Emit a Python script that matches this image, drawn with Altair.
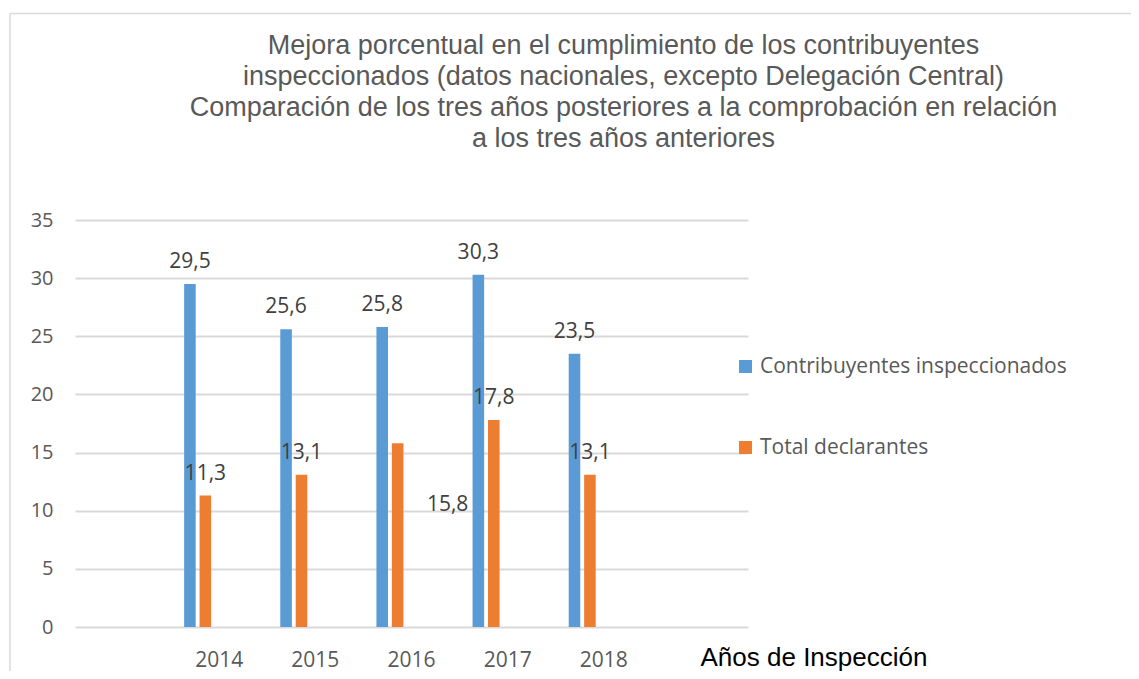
import altair as alt
import pandas as pd

# ---- data ----
years = ["2014", "2015", "2016", "2017", "2018"]
series = ["Contribuyentes inspeccionados", "Total declarantes"]
contribuyentes = [29.5, 25.6, 25.8, 30.3, 23.5]
total_declarantes = [11.3, 13.1, 15.8, 17.8, 13.1]
colors = ["#5B9BD5", "#ED7D31"]
y_ticks = [0, 5, 10, 15, 20, 25, 30, 35]
# in the reference the 2016 "Total declarantes" label is drawn beside the bars,
# with its baseline resting on the 10 gridline
moved_label = ("2016", "Total declarantes")
moved_label_anchor = 10.0

title_lines = [
    "Mejora porcentual en el cumplimiento de los contribuyentes",
    "inspeccionados (datos nacionales, excepto Delegación Central)",
    "Comparación de los tres años posteriores a la comprobación en relación",
    "a los tres años anteriores",
]
x_title = "Años de Inspección"
x_domain = ["pad_l"] + years + ["pad_r"]

rows = []
for i, y in enumerate(years):
    for s, vals in zip(series, [contribuyentes, total_declarantes]):
        v = vals[i]
        rows.append({
            "year": y,
            "serie": s,
            "value": v,
            "label": f"{v:.1f}".replace(".", ","),
            "moved": (y, s) == moved_label,
            "anchor": moved_label_anchor if (y, s) == moved_label else v,
        })
df = pd.DataFrame(rows)

label_font = "Open Sans"

x_enc = alt.X(
    "year:N",
    scale=alt.Scale(domain=x_domain, paddingInner=0, paddingOuter=0),
    axis=alt.Axis(
        labelExpr="indexof(datum.label, 'pad') >= 0 ? '' : datum.label",
        labelFont=label_font, labelFontSize=21, labelColor="#595959",
        labelPadding=22, labelAngle=0,
        ticks=False, domain=False, grid=False,
        title=x_title, titleX=625, titleY=38, titleAlign="left",
        titleAnchor="start", titleBaseline="alphabetic",
        titleFont="Liberation Sans", titleFontSize=26,
        titleFontWeight="normal", titleColor="#000000",
    ),
)
xo_enc = alt.XOffset(
    "serie:N",
    scale=alt.Scale(domain=series, range=[13, 40], paddingInner=0.25, paddingOuter=0),
)
y_axis = alt.Axis(
    values=y_ticks, title=None, ticks=False, domain=False,
    labelFont=label_font, labelFontSize=20, labelColor="#595959",
    labelPadding=22, grid=True, gridColor="#D9D9D9", gridWidth=2,
)
y_scale = alt.Scale(domain=[0, 35], nice=False, zero=True)

base = alt.Chart(df)

bars = base.mark_bar().encode(
    x=x_enc,
    xOffset=xo_enc,
    y=alt.Y("value:Q", scale=y_scale, axis=y_axis),
    color=alt.Color(
        "serie:N",
        scale=alt.Scale(domain=series, range=colors),
        legend=alt.Legend(
            orient="none", legendX=660, legendY=136, title=None,
            symbolType="square", symbolSize=169, symbolStrokeWidth=0,
            labelFont=label_font, labelFontSize=21, labelColor="#595959",
            labelOffset=4, rowPadding=59, direction="vertical", labelLimit=0,
        ),
    ),
)

labels = base.transform_filter("!datum.moved").mark_text(
    baseline="alphabetic", dy=-16, fontSize=21, font=label_font, color="#404040"
).encode(
    x=alt.X("year:N"),
    xOffset=alt.XOffset("serie:N"),
    y=alt.Y("anchor:Q"),
    text="label:N",
)

moved = base.transform_filter("datum.moved").mark_text(
    baseline="alphabetic", dx=50, fontSize=21, font=label_font, color="#404040"
).encode(
    x=alt.X("year:N"),
    xOffset=alt.XOffset("serie:N"),
    y=alt.Y("anchor:Q"),
    text="label:N",
)

# chart frame (decoration)
frame_df = pd.DataFrame({"k": [0]})
frame_top = alt.Chart(frame_df).mark_rule(color="#D9D9D9", strokeWidth=1.5).encode(
    x=alt.value(-65), x2=alt.value(1100), y=alt.value(-206.5)
)
frame_left = alt.Chart(frame_df).mark_rule(color="#D9D9D9", strokeWidth=1.5).encode(
    x=alt.value(-65), y=alt.value(-206.5), y2=alt.value(460)
)

chart = alt.layer(frame_top, frame_left, bars, labels, moved).properties(
    width=673,
    height=407,
    autosize="none",
    background="white",
    padding={"left": 67, "top": 212, "right": 383, "bottom": 44},
    title=alt.TitleParams(
        text=title_lines, anchor="middle", frame="group", dx=212, offset=-167,
        fontSize=27, font="Liberation Sans", color="#595959",
        fontWeight="normal", lineHeight=31, baseline="bottom",
    ),
).configure_view(strokeWidth=0)

chart.save("out.html", embed_options={"renderer": "svg", "actions": False})
